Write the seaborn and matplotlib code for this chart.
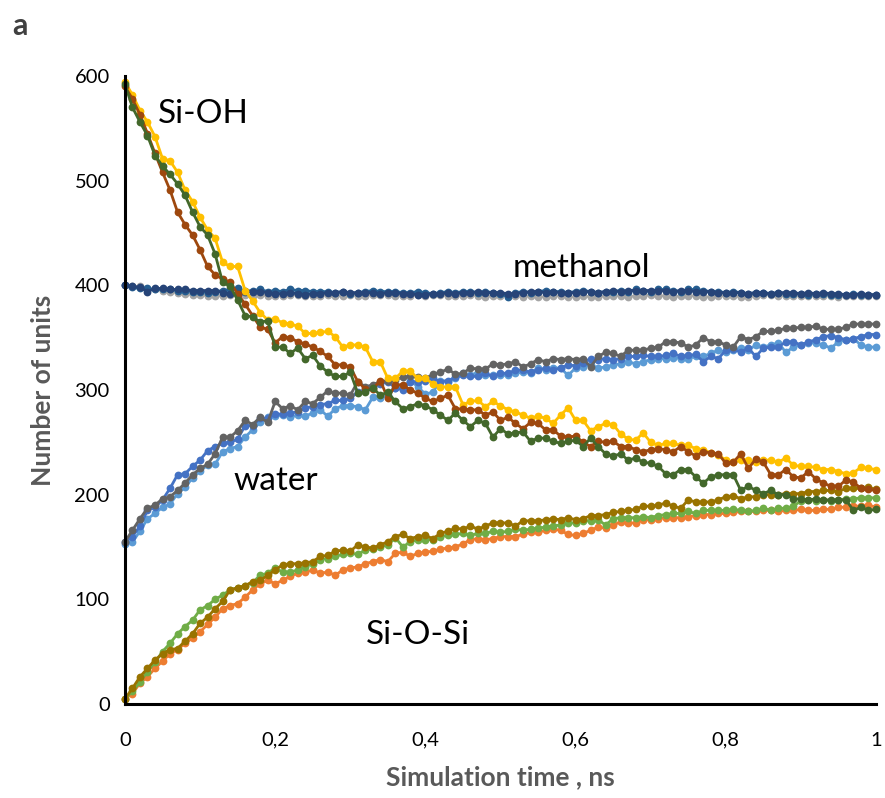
import numpy as np
import pandas as pd
import matplotlib.pyplot as plt
import seaborn as sns

sns.set_style("white")
plt.rcParams["font.family"] = ["Lato", "DejaVu Sans"]

# simulation time grid (ns), one sample every 0.01 ns
time_ns = np.round(np.arange(101) * 0.01, 2)

# Si-OH (three runs)
sioh_yellow = [594, 582, 567, 556, 542, 521, 519, 508, 491, 480,
               465, 453, 445, 422, 418, 418, 395, 385, 374, 367,
               368, 364, 363, 361, 354, 354, 355, 356, 351, 341,
               343, 343, 341, 327, 327, 311, 311, 318, 318, 311,
               311, 306, 303, 303, 303, 286, 289, 290, 284, 289,
               285, 281, 279, 276, 273, 275, 273, 268, 276, 283,
               271, 271, 261, 265, 268, 267, 258, 253, 252, 259,
               250, 247, 249, 249, 247, 247, 244, 243, 240, 238,
               233, 231, 233, 233, 231, 233, 233, 231, 235, 228,
               227, 227, 226, 224, 224, 222, 220, 221, 226, 225,
               224]
sioh_brown = [590, 578, 563, 545, 526, 508, 491, 470, 458, 448,
              434, 418, 410, 406, 403, 392, 382, 371, 360, 358,
              345, 351, 350, 346, 344, 341, 337, 332, 324, 324,
              322, 308, 301, 301, 309, 292, 305, 305, 300, 297,
              292, 289, 292, 295, 282, 282, 281, 281, 276, 279,
              271, 274, 268, 263, 269, 268, 262, 262, 256, 255,
              256, 250, 246, 251, 250, 251, 246, 246, 243, 241,
              243, 244, 243, 241, 246, 241, 237, 241, 240, 239,
              230, 231, 239, 225, 234, 231, 219, 219, 224, 217,
              216, 222, 215, 211, 208, 208, 214, 212, 206, 205,
              204]
sioh_green = [592, 570, 556, 543, 524, 514, 506, 497, 486, 470,
              456, 448, 430, 403, 399, 386, 371, 370, 365, 366,
              341, 341, 335, 340, 330, 333, 323, 317, 313, 313,
              317, 297, 298, 302, 295, 298, 289, 282, 284, 287,
              285, 281, 276, 271, 278, 271, 265, 271, 268, 255,
              263, 258, 259, 260, 251, 254, 254, 251, 249, 251,
              252, 246, 254, 246, 239, 237, 239, 233, 235, 231,
              230, 227, 220, 219, 224, 224, 217, 211, 217, 219,
              219, 219, 204, 208, 204, 201, 204, 200, 200, 196,
              196, 195, 196, 195, 195, 195, 195, 185, 188, 185,
              186]

# methanol (three runs)
meoh_navy = [400, 399, 398, 394, 397, 397, 396, 396, 396, 395,
             395, 395, 395, 393, 392, 392, 395, 394, 394, 393,
             392, 392, 393, 392, 391, 392, 392, 393, 393, 394,
             393, 393, 393, 393, 392, 393, 393, 392, 392, 391,
             391, 392, 392, 393, 392, 393, 393, 394, 393, 393,
             393, 392, 392, 393, 394, 394, 393, 394, 393, 393,
             393, 394, 394, 393, 394, 395, 394, 395, 395, 395,
             395, 395, 395, 394, 395, 395, 394, 394, 394, 393,
             393, 393, 393, 392, 393, 393, 392, 393, 393, 393,
             392, 393, 392, 393, 392, 392, 391, 391, 392, 391,
             391]
meoh_blue = [400, 398, 397, 397, 396, 396, 396, 395, 395, 394,
             394, 393, 394, 395, 396, 397, 394, 395, 396, 394,
             395, 394, 396, 395, 395, 394, 394, 394, 393, 394,
             392, 393, 394, 395, 394, 394, 394, 393, 393, 394,
             393, 392, 393, 394, 393, 394, 394, 393, 394, 393,
             392, 389, 393, 394, 393, 394, 395, 394, 394, 393,
             394, 395, 394, 393, 394, 394, 395, 394, 396, 395,
             394, 396, 396, 395, 394, 396, 396, 395, 394, 394,
             393, 394, 393, 392, 393, 393, 392, 393, 392, 392,
             392, 391, 392, 392, 391, 391, 391, 392, 391, 391,
             391]
meoh_grey = [400, 399, 399, 396, 396, 395, 394, 393, 392, 391,
             391, 390, 390, 390, 391, 391, 391, 390, 391, 390,
             390, 390, 391, 391, 390, 390, 390, 391, 390, 390,
             391, 390, 390, 391, 391, 391, 390, 390, 390, 391,
             390, 391, 391, 390, 390, 390, 391, 390, 389, 390,
             390, 390, 390, 389, 390, 389, 389, 390, 390, 389,
             389, 390, 389, 389, 390, 390, 390, 389, 390, 390,
             391, 390, 390, 389, 390, 390, 390, 389, 389, 390,
             390, 390, 389, 389, 390, 391, 391, 390, 390, 390,
             390, 390, 390, 390, 390, 389, 390, 390, 390, 390,
             390]

# water (three runs)
water_grey = [155, 166, 177, 187, 190, 196, 198, 204, 211, 219,
              225, 229, 239, 255, 255, 261, 271, 267, 274, 269,
              289, 282, 285, 281, 289, 287, 293, 299, 297, 297,
              295, 308, 303, 305, 308, 309, 310, 312, 313, 312,
              311, 315, 317, 320, 315, 316, 321, 320, 320, 325,
              324, 325, 327, 322, 325, 329, 327, 330, 329, 330,
              329, 330, 322, 332, 336, 335, 332, 338, 338, 338,
              340, 341, 346, 346, 345, 341, 343, 350, 346, 346,
              343, 341, 351, 348, 351, 356, 356, 357, 359, 359,
              360, 360, 361, 358, 358, 358, 360, 363, 363, 363,
              363]
water_blue = [155, 160, 170, 185, 188, 195, 206, 219, 220, 227,
              233, 242, 246, 249, 250, 253, 266, 266, 273, 273,
              277, 277, 278, 279, 283, 284, 286, 287, 290, 290,
              292, 298, 300, 303, 306, 308, 302, 300, 308, 308,
              309, 311, 308, 309, 312, 314, 313, 313, 316, 313,
              316, 316, 319, 319, 317, 319, 321, 319, 321, 324,
              323, 326, 330, 329, 330, 329, 330, 332, 332, 333,
              332, 332, 333, 335, 332, 333, 334, 327, 332, 330,
              338, 339, 336, 340, 332, 340, 341, 341, 346, 346,
              343, 346, 348, 351, 352, 350, 348, 349, 351, 353,
              353]
water_light = [153, 155, 165, 177, 182, 188, 191, 201, 207, 216,
               223, 228, 229, 241, 244, 246, 255, 262, 269, 274,
               275, 276, 274, 276, 275, 278, 281, 275, 282, 285,
               285, 284, 281, 293, 292, 295, 302, 303, 309, 303,
               296, 298, 309, 308, 311, 316, 314, 317, 314, 314,
               314, 314, 316, 317, 316, 321, 319, 321, 321, 314,
               321, 322, 324, 321, 322, 324, 325, 327, 325, 327,
               329, 330, 330, 331, 330, 330, 332, 332, 335, 338,
               336, 338, 340, 338, 343, 341, 343, 345, 336, 341,
               343, 345, 345, 343, 340, 346, 348, 349, 343, 341,
               341]

# Si-O-Si (three runs)
sos_green = [5, 12, 21, 31, 40, 50, 58, 67, 74, 80,
             90, 94, 100, 104, 109, 111, 113, 116, 123, 125,
             130, 126, 126, 128, 131, 134, 138, 139, 141, 143,
             144, 143, 147, 148, 150, 152, 159, 150, 155, 157,
             157, 157, 160, 161, 162, 163, 161, 163, 163, 165,
             164, 165, 167, 166, 167, 168, 169, 170, 171, 173,
             173, 175, 175, 176, 171, 177, 178, 178, 178, 179,
             178, 180, 181, 182, 182, 184, 182, 185, 185, 185,
             185, 186, 185, 184, 185, 187, 185, 187, 187, 189,
             194, 195, 194, 195, 194, 195, 196, 196, 197, 197,
             197]
sos_orange = [5, 10, 20, 26, 34, 41, 48, 52, 58, 63,
              69, 76, 83, 91, 94, 96, 102, 109, 115, 118,
              115, 118, 122, 125, 126, 128, 125, 126, 123, 128,
              130, 131, 134, 136, 138, 136, 144, 145, 141, 144,
              145, 146, 148, 149, 150, 153, 157, 158, 157, 158,
              160, 160, 160, 162, 164, 164, 166, 167, 166, 162,
              161, 163, 166, 169, 168, 171, 174, 173, 173, 176,
              176, 177, 178, 178, 178, 179, 180, 181, 181, 182,
              182, 183, 184, 184, 184, 185, 185, 184, 185, 185,
              186, 185, 185, 186, 186, 188, 188, 189, 189, 190,
              188]
sos_olive = [5, 15, 26, 34, 42, 48, 52, 53, 60, 67,
             77, 83, 91, 98, 109, 111, 113, 117, 118, 123,
             128, 133, 134, 134, 135, 136, 141, 142, 146, 147,
             146, 152, 150, 149, 152, 155, 160, 162, 158, 160,
             161, 158, 163, 165, 168, 167, 170, 167, 170, 173,
             173, 173, 170, 175, 175, 175, 176, 177, 176, 178,
             176, 177, 180, 180, 181, 183, 184, 185, 186, 189,
             189, 190, 192, 189, 187, 195, 193, 193, 193, 195,
             198, 199, 196, 198, 198, 200, 200, 200, 201, 201,
             201, 203, 203, 204, 204, 203, 206, 206, 206, 207,
             205]

# drawing order and colours (Office palette)
series = [
    (sos_orange, "#ED7D31"),
    (sos_green, "#70AD47"),
    (sos_olive, "#997300"),
    (water_light, "#5B9BD5"),
    (water_blue, "#4472C4"),
    (water_grey, "#636363"),
    (meoh_grey, "#A5A5A5"),
    (meoh_blue, "#255E91"),
    (meoh_navy, "#264478"),
    (sioh_yellow, "#FFC000"),
    (sioh_brown, "#9E480E"),
    (sioh_green, "#43682B"),
]

fig = plt.figure(figsize=(8.85, 7.98), dpi=100)
ax = fig.add_axes([0.1412, 0.1178, 0.8486, 0.787])

for values, colour in series:
    sns.lineplot(x=time_ns, y=values, ax=ax, color=colour, marker="o",
                 markersize=5.6, markeredgewidth=0, linewidth=2.0,
                 errorbar=None, clip_on=False)

ax.set_xlim(0, 1)
ax.set_ylim(0, 600)
ax.set_xticks([0, 0.2, 0.4, 0.6, 0.8, 1.0])
ax.set_xticklabels(["0", "0,2", "0,4", "0,6", "0,8", "1"])
ax.set_yticks(range(0, 601, 100))
ax.tick_params(axis="both", length=0, labelsize=14.5, colors="black")
ax.tick_params(axis="x", pad=20)
ax.tick_params(axis="y", pad=11)

sns.despine(ax=ax)
for side in ["left", "bottom"]:
    ax.spines[side].set_color("black")
    ax.spines[side].set_linewidth(2.2)

ax.set_xlabel("Simulation time , ns", fontsize=19, fontweight="bold",
              color="#595959", labelpad=12)
ax.set_ylabel("Number of units", fontsize=19, fontweight="bold",
              color="#595959", labelpad=14)

label_style = dict(fontsize=24, color="black", ha="center", va="center")
ax.text(0.104, 564, "Si-OH", **label_style)
ax.text(0.608, 417, "methanol", **label_style)
ax.text(0.201, 213, "water", **label_style)
ax.text(0.390, 66, "Si-O-Si", **label_style)

fig.text(0.023, 0.968, "a", fontsize=22, fontweight="bold",
         color="#404040", ha="center", va="center")

fig.savefig("out.png", dpi=100)
